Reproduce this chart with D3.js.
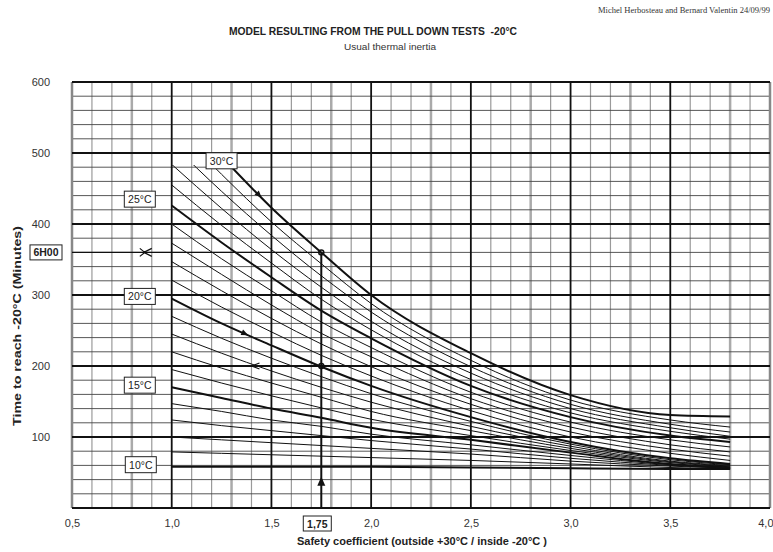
<!DOCTYPE html>
<html>
<head>
<meta charset="utf-8">
<script src="https://cdn.jsdelivr.net/npm/d3@7/dist/d3.min.js"></script>
<style>
  body { margin: 0; background: #fff; }
  svg { display: block; font-family: "Liberation Sans", Arial, sans-serif; }
</style>
</head>
<body>
<script>
// ==========================================
// 1. DATA
// ==========================================

const xTicks = [0.5, 1.0, 1.5, 2.0, 2.5, 3.0, 3.5, 4.0];
const yTicks = [100, 200, 300, 400, 500, 600];

// safety coefficient knots where each curve was read
const knotK = [1.0, 1.25, 1.5, 1.75, 2.0, 2.5, 3.0, 3.5, 3.8];

// outside temperature of each curve (°C)
const curveTemps = [10, 11, 12, 13, 14, 15, 16, 17, 18, 19, 20,
                    21, 22, 23, 24, 25, 26, 27, 28, 29, 30];

// time to reach -20°C (minutes) at each knot, one row per curve
const curveTimes = [
  [58, 58, 58, 58, 58, 57, 56, 55, 55],
  [79, 77, 75, 73, 71, 67, 62, 57, 55],
  [100, 96, 92, 88, 84, 76, 66, 59, 56],
  [124, 116, 109, 102, 95, 83, 70, 60, 56],
  [147, 136, 124, 115, 104, 89, 74, 61, 57],
  [170, 155, 140, 127, 113, 96, 78, 62, 57],
  [195, 176, 158, 141, 125, 102, 81, 64, 58],
  [220, 197, 176, 156, 136, 109, 84, 65, 59],
  [245, 218, 193, 170, 149, 115, 87, 66, 60],
  [270, 239, 211, 185, 161, 122, 90, 68, 61],
  [295, 260, 229, 199, 172, 128, 93, 70, 62],
  [321, 283, 248, 215, 186, 137, 100, 77, 67],
  [347, 306, 267, 231, 199, 146, 107, 83, 73],
  [373, 329, 286, 246, 213, 154, 114, 89, 79],
  [400, 351, 306, 262, 226, 163, 121, 96, 86],
  [426, 374, 325, 278, 239, 172, 128, 102, 93],
  [455, 398, 345, 294, 251, 181, 134, 108, 97],
  [484, 422, 364, 311, 263, 190, 140, 113, 101],
  [513, 446, 384, 327, 276, 199, 146, 118, 107],
  [541, 470, 403, 344, 288, 208, 152, 124, 114],
  [570, 495, 423, 360, 300, 218, 159, 131, 129]
];

const labelTemps = [10, 15, 20, 25, 30];
const readK = 1.75;      // example reading
const readTime = 360;    // 6H00
const readTimeLow = 200;

// ==========================================
// 2. SETUP
// ==========================================

const W = 773, H = 552;
const curveTop = 483;   // curves are cut at this time

const svg = d3.select("body").append("svg")
    .attr("width", W)
    .attr("height", H);

const x = d3.scaleLinear().domain([0.5, 4.0]).range([72, 770]);
const y = d3.scaleLinear().domain([0, 600]).range([508, 82]);

// ==========================================
// 3. GRID
// ==========================================

const grid = svg.append("g");

// minor verticals every 0.1
const minorX = d3.range(5, 41).map(d => d / 10).filter(d => Math.round(d * 10) % 5 !== 0);
grid.selectAll(".vminor").data(minorX).enter().append("line")
    .attr("x1", d => x(d)).attr("x2", d => x(d))
    .attr("y1", y(0)).attr("y2", y(600))
    .attr("stroke", d => Math.round(d * 10) % 5 === 3 ? "#aaa" : "#9a9a9a")
    .attr("stroke-width", d => Math.round(d * 10) % 5 === 3 ? 2.5 : 1.2);

// minor horizontals every 20
const minorY = d3.range(0, 601, 20).filter(d => d % 100 !== 0);
grid.selectAll(".hminor").data(minorY).enter().append("line")
    .attr("x1", x(0.5)).attr("x2", x(4.0))
    .attr("y1", d => y(d)).attr("y2", d => y(d))
    .attr("stroke", "#444")
    .attr("stroke-width", 0.9);

// major verticals
grid.selectAll(".vmajor").data(xTicks).enter().append("line")
    .attr("x1", d => x(d)).attr("x2", d => x(d))
    .attr("y1", y(0)).attr("y2", y(600))
    .attr("stroke", d => (d === 0.5 || d === 4.0) ? "#888" : "#111")
    .attr("stroke-width", d => (d === 0.5 || d === 4.0) ? 2.5 : 1.8);

// major horizontals
grid.selectAll(".hmajor").data([0].concat(yTicks)).enter().append("line")
    .attr("x1", x(0.5)).attr("x2", x(4.0))
    .attr("y1", d => y(d)).attr("y2", d => y(d))
    .attr("stroke", "#111")
    .attr("stroke-width", d => d === 0 ? 2.2 : 1.8);

// ==========================================
// 4. AXES (labels only)
// ==========================================

const yAxis = d3.axisLeft(y).tickValues(yTicks).tickSize(0).tickPadding(22);
svg.append("g").attr("transform", `translate(${x(0.5)},0)`).call(yAxis)
    .call(g => g.select(".domain").remove())
    .selectAll("text")
    .attr("font-size", 11)
    .attr("fill", "#333")
    .attr("font-family", "Liberation Sans, Arial, sans-serif");

const xAxis = d3.axisBottom(x).tickValues(xTicks).tickSize(0).tickPadding(11)
    .tickFormat(d => d3.format(".1f")(d).replace(".", ","));
svg.append("g").attr("transform", `translate(0,${y(0)})`).call(xAxis)
    .call(g => g.select(".domain").remove())
    .selectAll("text")
    .attr("font-size", 11)
    .attr("fill", "#333")
    .attr("font-family", "Liberation Sans, Arial, sans-serif")
    // last label sits on the page edge
    .attr("text-anchor", d => d === 4.0 ? "end" : "middle")
    .attr("dx", d => d === 4.0 ? 3 : 0);

// ==========================================
// 5. CURVES
// ==========================================

svg.append("clipPath").attr("id", "curveClip")
  .append("rect")
    .attr("x", x(1.0) - 1)
    .attr("y", y(curveTop))
    .attr("width", x(3.8) - x(1.0) + 2)
    .attr("height", y(0) - y(curveTop));

const line = d3.line()
    .x(d => x(d[0]))
    .y(d => y(d[1]))
    .curve(d3.curveMonotoneX);

svg.append("g").attr("clip-path", "url(#curveClip)")
  .selectAll("path")
  .data(curveTemps.map((t, i) => ({ t: t, pts: knotK.map((k, j) => [k, curveTimes[i][j]]) })))
  .enter().append("path")
    .attr("d", d => line(d.pts))
    .attr("fill", "none")
    .attr("stroke", "#111")
    .attr("stroke-width", d => labelTemps.includes(d.t) ? 2 : 1);

// ==========================================
// 6. READING EXAMPLE (1,75 -> 6H00)
// ==========================================

const ann = svg.append("g");

ann.append("line")
    .attr("x1", x(readK)).attr("x2", x(readK))
    .attr("y1", y(0)).attr("y2", y(readTime))
    .attr("stroke", "#111").attr("stroke-width", 2);

ann.append("line")
    .attr("x1", x(0.5)).attr("x2", x(readK))
    .attr("y1", y(readTime)).attr("y2", y(readTime))
    .attr("stroke", "#111").attr("stroke-width", 1.4);

// up arrow on the vertical
ann.append("path")
    .attr("d", `M${x(readK)},${y(44)} l-4,9 l8,0 z`)
    .attr("fill", "#111");

// left-pointing marks
ann.append("path")
    .attr("d", `M${x(0.86)},${y(readTime)} l8,-4 M${x(0.86)},${y(readTime)} l8,4 M${x(0.84)},${y(readTime) - 4} l5,4 l-5,4`)
    .attr("stroke", "#111").attr("fill", "none").attr("stroke-width", 1.2);
ann.append("path")
    .attr("d", `M${x(1.4)},${y(readTimeLow)} l8,-3 M${x(1.4)},${y(readTimeLow)} l8,3`)
    .attr("stroke", "#111").attr("fill", "none").attr("stroke-width", 1.2);

// small arrows along the 30°C and 20°C curves
function curveArrow(temp, k) {
  const row = curveTemps.indexOf(temp);
  const j = d3.bisectLeft(knotK, k);
  const t0 = curveTimes[row][j - 1], t1 = curveTimes[row][j];
  const f = (k - knotK[j - 1]) / (knotK[j] - knotK[j - 1]);
  const px = x(k), py = y(t0 + (t1 - t0) * f);
  const ang = Math.atan2(y(t1) - y(t0), x(knotK[j]) - x(knotK[j - 1])) * 180 / Math.PI;
  ann.append("path")
      .attr("d", "M3,0 L-4,-3 L-4,3 Z")
      .attr("transform", `translate(${px},${py}) rotate(${ang})`)
      .attr("fill", "#111");
}
curveArrow(30, 1.44);
curveArrow(20, 1.37);

ann.selectAll(".dot").data([readTime, readTimeLow]).enter().append("circle")
    .attr("cx", x(readK)).attr("cy", d => y(d))
    .attr("r", 2.5)
    .attr("fill", "none").attr("stroke", "#111").attr("stroke-width", 1.5);

// ==========================================
// 7. BOXED LABELS
// ==========================================

function boxLabel(cx, cy, w, h, text, bold) {
  const g = svg.append("g");
  g.append("rect")
      .attr("x", cx - w / 2).attr("y", cy - h / 2)
      .attr("width", w).attr("height", h)
      .attr("fill", "#fff").attr("stroke", "#222").attr("stroke-width", 1);
  g.append("text")
      .attr("x", cx).attr("y", cy + 4)
      .attr("text-anchor", "middle")
      .attr("font-size", 10.5)
      .attr("font-weight", bold ? "bold" : "normal")
      .attr("fill", "#222")
      .text(text);
}

const labelK = [0.845, 0.84, 0.84, 0.84, 1.25];
const labelTime = [61, 173, 298, 435, 489];
labelTemps.forEach((t, i) => boxLabel(x(labelK[i]), y(labelTime[i]), 31, 16, t + "°C", false));

boxLabel(46, y(readTime), 32, 15, "6H00", true);
boxLabel(x(readK) - 4, 523.5, 28, 15, "1,75", true);

// ==========================================
// 8. TITLES
// ==========================================

svg.append("text")
    .attr("x", 770).attr("y", 13)
    .attr("text-anchor", "end")
    .attr("font-family", "Liberation Serif, serif")
    .attr("font-size", 7.5)
    .attr("fill", "#333")
    .attr("textLength", 172).attr("lengthAdjust", "spacingAndGlyphs")
    .text("Michel Herbosteau and Bernard Valentin 24/09/99");

svg.append("text")
    .attr("x", 229).attr("y", 35)
    .attr("font-size", 10.5).attr("font-weight", "bold")
    .attr("fill", "#222")
    .attr("textLength", 288).attr("lengthAdjust", "spacingAndGlyphs")
    .text("MODEL RESULTING FROM THE PULL DOWN TESTS \u00a0-20°C");

svg.append("text")
    .attr("x", 344).attr("y", 50)
    .attr("font-size", 9)
    .attr("fill", "#333")
    .attr("textLength", 92).attr("lengthAdjust", "spacingAndGlyphs")
    .text("Usual thermal inertia");

svg.append("text")
    .attr("transform", "translate(21,326) rotate(-90)")
    .attr("text-anchor", "middle")
    .attr("font-size", 10).attr("font-weight", "bold")
    .attr("fill", "#222")
    .attr("textLength", 200).attr("lengthAdjust", "spacingAndGlyphs")
    .text("Time to reach -20°C (Minutes)");

svg.append("text")
    .attr("x", 297).attr("y", 545)
    .attr("font-size", 10).attr("font-weight", "bold")
    .attr("fill", "#222")
    .attr("textLength", 250).attr("lengthAdjust", "spacingAndGlyphs")
    .text("Safety coefficient (outside +30°C / inside -20°C )");
</script>
</body>
</html>
